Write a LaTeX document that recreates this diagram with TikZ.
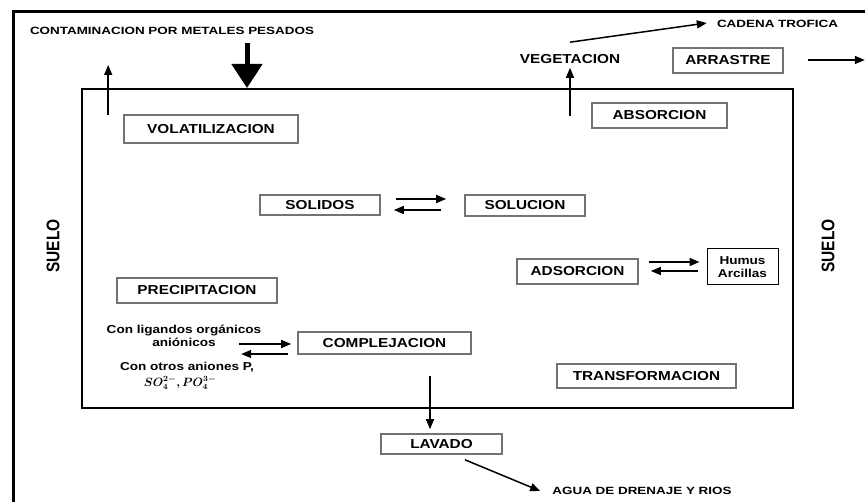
\documentclass[tikz,border=0pt]{standalone}
\usepackage{fontspec}
\setmainfont{Liberation Sans}
\newfontfamily\fA{Liberation Sans}[FakeStretch=1.18]
\newfontfamily\fB{Liberation Sans}[FakeStretch=1.28]
\usepackage{bm}
\usetikzlibrary{arrows.meta,calc}
\newcommand\chemf{$\bm{SO_4^{2-}, PO_4^{3-}}$}
\begin{document}
\begin{tikzpicture}[x=1pt,y=-1pt,
  box/.style={draw=black!55,line width=1.6pt,inner sep=0pt,
    font=\fA\bfseries\fontsize{13}{15}\selectfont},
  plain/.style={inner sep=1pt,font=\fA\bfseries\fontsize{13}{15}\selectfont},
  lbl/.style={inner sep=1pt,font=\fB\bfseries\fontsize{10.5}{12}\selectfont},
  small/.style={inner sep=0pt,align=center,font=\fA\bfseries\fontsize{11.5}{13}\selectfont},
  sidelbl/.style={inner sep=1pt,rotate=90,font=\bfseries\fontsize{15.5}{17}\selectfont},
  arr/.style={line width=1.5pt,-{Triangle[length=10pt,width=8pt]}},
]
\useasboundingbox (0,0) rectangle (865,502);
\clip (0,0) rectangle (865,502);
% outer frame (only left and top edges visible)
\draw[line width=3pt] (13,540) -- (13,12) -- (900,12);
% inner soil rectangle
\node[draw,line width=2pt,inner sep=0pt,minimum width=711pt,minimum height=319pt] (soil) at (437.5,248.5) {};

% labels
\node[lbl] (cont) at (172,31) {CONTAMINACION POR METALES PESADOS};
\node[lbl] (cad) at (777.5,24) {CADENA TROFICA};
\node[lbl] (agua) at (642,491) {AGUA DE DRENAJE Y RIOS};
\node[plain] (veg) at (570,59) {VEGETACION};
\node[sidelbl] (suelo1) at (53,246) {\scalebox{1}[1.18]{SUELO}};
\node[sidelbl] (suelo2) at (828,246) {\scalebox{1}[1.18]{SUELO}};

% boxes
\node[box,minimum width=174pt,minimum height=28pt] (vol) at (211,129) {VOLATILIZACION};
\node[box,minimum width=135pt,minimum height=25pt] (abs) at (659.5,115.5) {ABSORCION};
\node[box,minimum width=110pt,minimum height=25pt] (arr) at (728,60.5) {ARRASTRE};
\node[box,minimum width=120pt,minimum height=20pt] (sol) at (320,205) {SOLIDOS};
\node[box,minimum width=120pt,minimum height=21pt] (solu) at (525,205.5) {SOLUCION};
\node[box,minimum width=121pt,minimum height=25pt] (ads) at (577.5,271.5) {ADSORCION};
\node[draw,line width=1pt,inner sep=0pt,minimum width=71pt,minimum height=36pt,align=center,font=\fA\bfseries\fontsize{11.5}{12.5}\selectfont] (hum) at (742.5,267) {Humus\\Arcillas};
\node[box,minimum width=160pt,minimum height=25pt] (prec) at (197,290.5) {PRECIPITACION};
\node[box,minimum width=173pt,minimum height=22pt] (comp) at (384.5,343) {COMPLEJACION};
\node[box,minimum width=179pt,minimum height=24pt] (trans) at (646.5,376) {TRANSFORMACION};
\node[box,minimum width=121pt,minimum height=20pt] (lav) at (441.5,444) {LAVADO};

\node[small] (lig) at (184,335.5) {Con ligandos orgánicos\\aniónicos};
\node[small] (ani) at (187,367) {Con otros aniones P,};
\node[inner sep=0pt,font=\fontsize{11.5}{12}\selectfont] (form) at (180,382.5) {\chemf};

% thick input arrow
\coordinate (cstart) at (247,43);
\draw[line width=5pt,-{Triangle[length=24pt,width=30pt]}] (cstart) -- (soil.north -| cstart);

% arrows
\draw[arr] ($(vol.west)+(-15,-14)$) -- ($(vol.west)+(-15,-64)$);
\draw[arr] ($(veg.south)+(0,51)$) -- ($(veg.south)+(0,3)$);
\draw[arr] ($(veg.north)+(0,-11)$) -- ($(cad.west)+(-9,-1)$);
\draw[arr] ($(arr.east)+(24,-0.5)$) -- ($(arr.east)+(81,-0.5)$);

\draw[arr] ($(sol.east)+(15,-6)$) -- ($(solu.west)+(-18,-6.5)$);
\draw[arr] ($(solu.west)+(-23,4.5)$) -- ($(sol.east)+(13,5)$);

\draw[arr] ($(ads.east)+(10,-9.5)$) -- ($(hum.west)+(-7,-5)$);
\draw[arr] ($(hum.west)+(-9,4)$) -- ($(ads.east)+(12,-0.5)$);

\draw[arr] ($(comp.west)+(-58,1)$) -- ($(comp.west)+(-6,1)$);
\draw[arr] ($(comp.west)+(-9,11)$) -- ($(comp.west)+(-56,11)$);

\draw[arr] ($(comp.south)+(45.5,21)$) -- ($(lav.north)+(-11.5,-4)$);
\draw[arr] ($(lav.south)+(23.5,5)$) -- ($(agua.west)+(-11,0)$);
\end{tikzpicture}
\end{document}
